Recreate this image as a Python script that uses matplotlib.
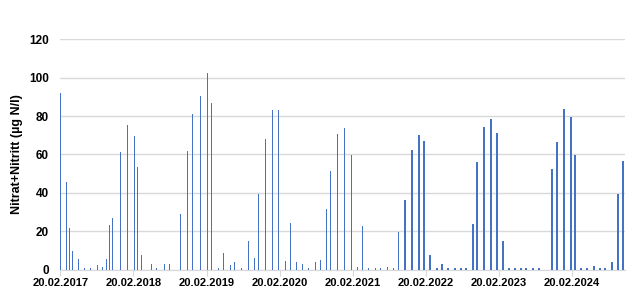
import matplotlib
matplotlib.use("Agg")
import matplotlib.pyplot as plt
import matplotlib.dates as mdates
import pandas as pd

dates = [
    "2017-02-20", "2017-03-22", "2017-04-06", "2017-04-21", "2017-05-21", "2017-06-20",
    "2017-07-20", "2017-08-24", "2017-09-18", "2017-10-08", "2017-10-23", "2017-11-07",
    "2017-12-17", "2018-01-21", "2018-02-25", "2018-03-12", "2018-04-01", "2018-05-21",
    "2018-06-15", "2018-07-25", "2018-08-19", "2018-10-13", "2018-11-17", "2018-12-12",
    "2019-01-21", "2019-02-25", "2019-03-17", "2019-04-21", "2019-05-16", "2019-06-20",
    "2019-07-10", "2019-08-14", "2019-09-18", "2019-10-18", "2019-11-07", "2019-12-12",
    "2020-01-16", "2020-02-15", "2020-03-21", "2020-04-15", "2020-05-15", "2020-06-14",
    "2020-07-14", "2020-08-18", "2020-09-12", "2020-10-12", "2020-11-01", "2020-12-06",
    "2021-01-10", "2021-02-14", "2021-03-16", "2021-04-10", "2021-05-10", "2021-06-14",
    "2021-07-09", "2021-08-13", "2021-09-12", "2021-10-07", "2021-11-06", "2021-12-11",
    "2022-01-15", "2022-02-09", "2022-03-11", "2022-04-15", "2022-05-10", "2022-06-09",
    "2022-07-14", "2022-08-13", "2022-09-07", "2022-10-12", "2022-11-01", "2022-12-06",
    "2023-01-10", "2023-02-09", "2023-03-11", "2023-04-10", "2023-05-10", "2023-06-09",
    "2023-07-04", "2023-08-08", "2023-09-07", "2023-11-11", "2023-12-06", "2024-01-10",
    "2024-02-14", "2024-03-05", "2024-04-04", "2024-05-04", "2024-06-08", "2024-07-08",
    "2024-08-02", "2024-09-06", "2024-10-06", "2024-10-31",
]
values = [
    92, 45.7, 21.8, 9.9, 5.7, 1, 1, 2.6, 1.5, 5.7, 23.4, 27,
    61.3, 75.3, 69.6, 53.5, 7.8, 3.1, 1, 3.1, 3.1, 29.1, 61.8, 81,
    90.4, 102.3, 86.8, 1, 8.8, 2.6, 4.2, 1, 15.1, 6.2, 39.5, 68,
    83.1, 83.1, 4.7, 24.4, 4.2, 3.1, 1, 4.2, 5.2, 31.7, 51.4, 70.6,
    73.8, 59.7, 1.6, 22.9, 1, 1, 1, 1.6, 1, 19.7, 36.4, 62.3,
    70.1, 67, 7.8, 1, 3.1, 1, 1, 1, 1, 23.9, 56.1, 74.3,
    78.4, 71.2, 15.1, 1, 1, 1, 1, 1, 1, 52.5, 66.5, 83.6,
    79.5, 59.7, 1, 1, 2, 1, 1, 4.2, 39.5, 56.6,
]
tick_dates = ["2017-02-20", "2018-02-20", "2019-02-20", "2020-02-20",
              "2021-02-20", "2022-02-20", "2023-02-20", "2024-02-20"]
y_ticks = [0, 20, 40, 60, 80, 100, 120]
y_label = "Nitrat+Nitritt (µg N/l)"

plt.rcParams['font.family'] = ['Liberation Sans', 'DejaVu Sans']

fig = plt.figure(figsize=(6.31, 2.94), dpi=100)
ax = fig.add_axes([0.095, 0.082, 0.895, 0.785])

x = pd.to_datetime(dates)
ax.bar(x, values, width=7, color="#4472C4", zorder=3)

ax.set_ylim(0, 120)
ax.set_yticks(y_ticks)
ax.set_xlim(pd.Timestamp("2017-02-18"), pd.Timestamp("2024-11-08"))
ax.set_xticks(pd.to_datetime(tick_dates))
ax.xaxis.set_major_formatter(mdates.DateFormatter("%d.%m.%Y"))

ax.grid(axis="y", color="#d9d9d9", linewidth=1, zorder=0)
for s in ["top", "right", "left"]:
    ax.spines[s].set_visible(False)
ax.spines["bottom"].set_color("#d9d9d9")
ax.tick_params(axis="y", length=0, pad=8, labelsize=8.5)
ax.tick_params(axis="x", length=4, color="#d9d9d9", labelsize=8, pad=2)
for lab in ax.get_xticklabels() + ax.get_yticklabels():
    lab.set_fontweight("bold")
ax.set_ylabel(y_label, fontsize=9, fontweight="bold", labelpad=4)

fig.savefig("out.png", dpi=100)
